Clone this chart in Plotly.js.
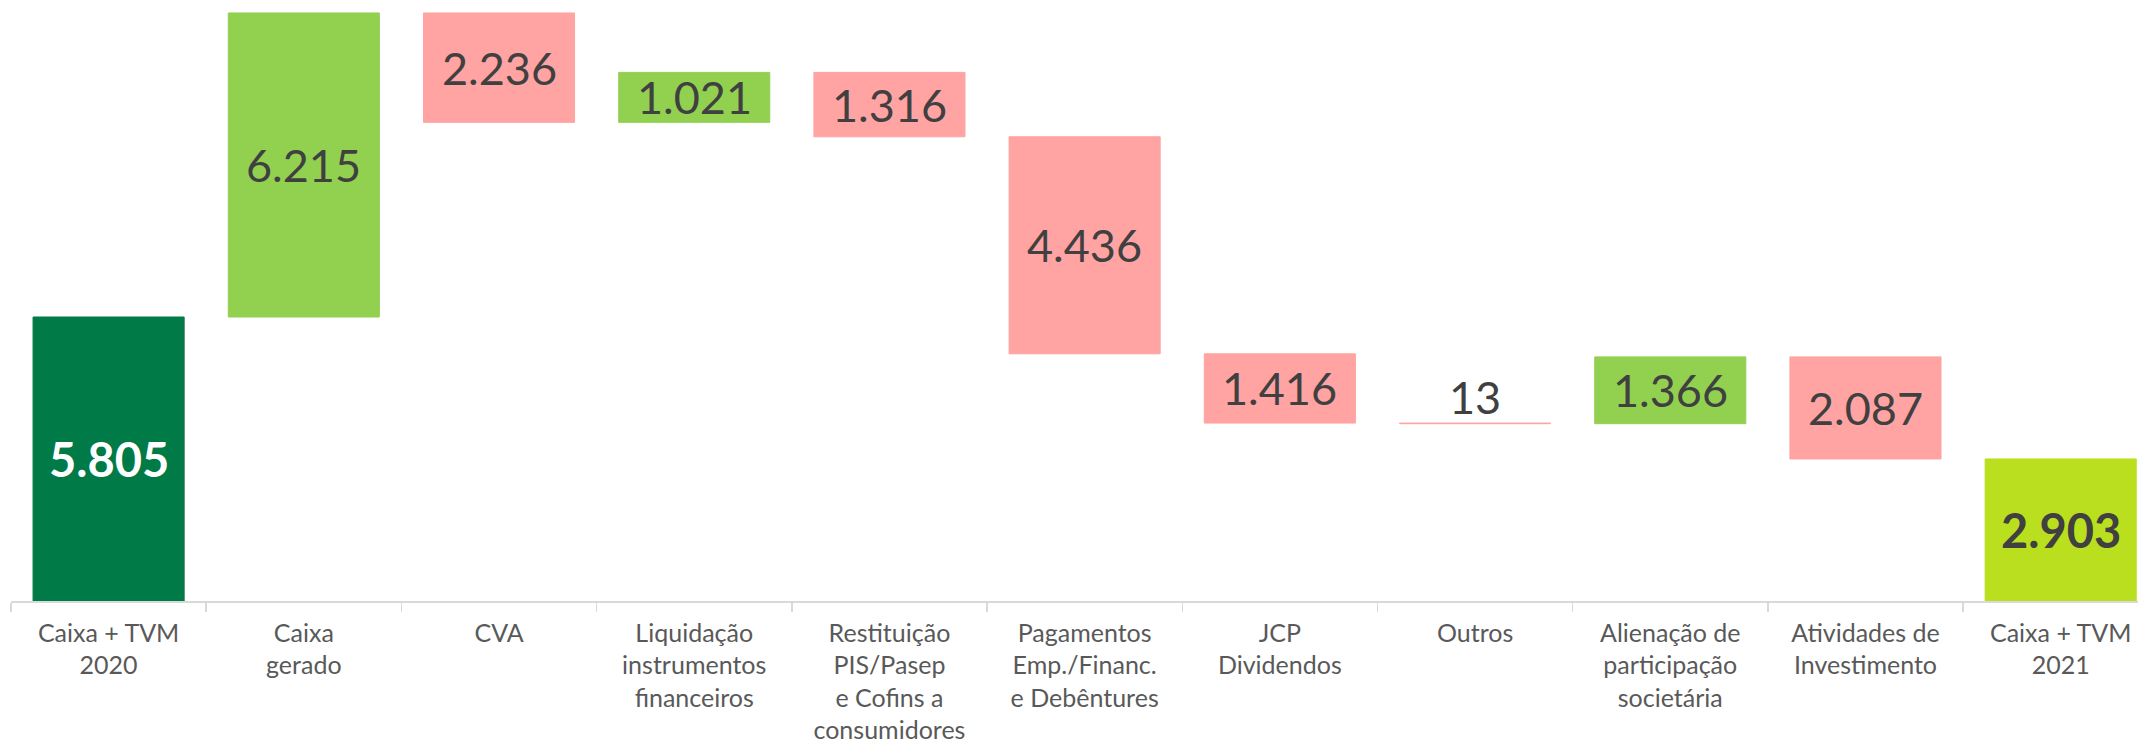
<!DOCTYPE html>
<html>
<head>
<meta charset="utf-8">
<script src="https://cdn.plot.ly/plotly-3.0.1.min.js"></script>
<style>html,body{margin:0;padding:0;background:#fff;}#chart{width:2138px;height:745px;}</style>
</head>
<body>
<div id="chart"></div>
<script>
// Data
const categories = [
  "Caixa + TVM<br>2020", "Caixa<br>gerado", "CVA",
  "Liquidação<br>instrumentos<br>financeiros",
  "Restituição<br>PIS/Pasep<br>e Cofins a<br>consumidores",
  "Pagamentos<br>Emp./Financ.<br>e Debêntures",
  "JCP<br>Dividendos", "Outros",
  "Alienação de<br>participação<br>societária",
  "Atividades de<br>Investimento", "Caixa + TVM<br>2021"
];
const measures = ["total","relative","relative","relative","relative","relative","relative","relative","relative","relative","total"];
const values = [5805, 6215, -2236, 1021, -1316, -4436, -1416, -13, 1366, -2087, 2903];

const colTotalStart = "#007A47", colTotalEnd = "#BADF1E";
const colUp = "#92D050", colDown = "#FFA3A3";

function fmt(v){
  const s = String(Math.abs(v));
  return s.replace(/\B(?=(\d{3})+(?!\d))/g, ".");
}

const bases = [], heights = [], colors = [], anns = [];
let running = 0;
values.forEach((v, i) => {
  let b, h, c;
  if (measures[i] === "total") {
    b = 0; h = v; running = v;
    c = i === 0 ? colTotalStart : colTotalEnd;
  } else {
    if (v >= 0) { b = running; h = v; c = colUp; }
    else { b = running + v; h = -v; c = colDown; }
    running += v;
  }
  bases.push(b); heights.push(h); colors.push(c);
  const isTotal = measures[i] === "total";
  anns.push({
    x: categories[i], y: b + h / 2, xref: "x", yref: "y",
    text: isTotal ? "<b>" + fmt(v) + "</b>" : fmt(v),
    showarrow: false,
    yshift: h < 100 ? 26 : 0,
    font: {family: "Lato, 'Open Sans', sans-serif", size: isTotal ? 47 : 45,
           color: i === 0 ? "#FFFFFF" : "#404040"}
  });
});

const trace = {
  type: "bar", x: categories, y: heights, base: bases,
  marker: {color: colors, line: {width: 1, color: colors}},
  hoverinfo: "skip"
};

const layout = {
  width: 2138, height: 745,
  margin: {l: 11, r: 0, t: 0, b: 144, pad: 0},
  paper_bgcolor: "#fff", plot_bgcolor: "#fff",
  showlegend: false,
  bargap: 0.226,
  font: {family: "Lato, 'Open Sans', sans-serif", color: "#595959"},
  xaxis: {
    type: "category", range: [-0.5, 10.396], fixedrange: true,
    showline: true, linecolor: "#D9D9D9", linewidth: 1.5,
    ticks: "outside", tickson: "boundaries", ticklen: 9, tickcolor: "#D9D9D9", tickwidth: 1.5,
    ticklabelstandoff: 9,
    tickfont: {size: 25, color: "#595959"}, tickangle: 0,
    showgrid: false, zeroline: false
  },
  yaxis: {range: [0, 12285], visible: false, fixedrange: true, showgrid: false, zeroline: false},
  annotations: anns
};

Plotly.newPlot("chart", [trace], layout, {staticPlot: true, displayModeBar: false});
</script>
</body>
</html>
